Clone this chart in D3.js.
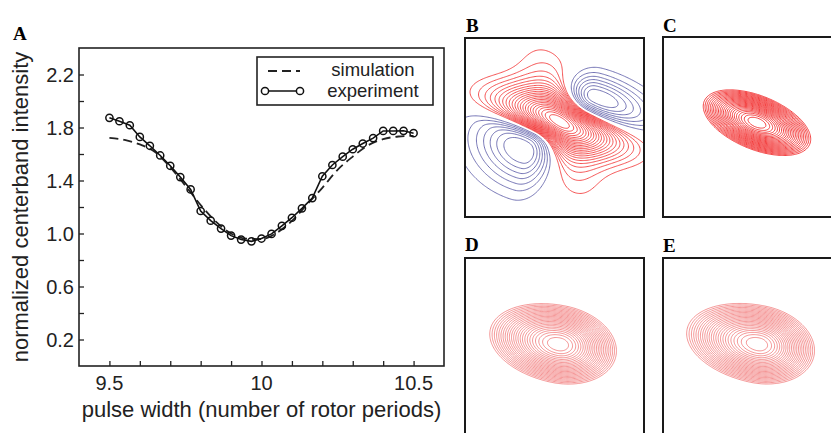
<!DOCTYPE html>
<html>
<head>
<meta charset="utf-8">
<script src="https://cdn.jsdelivr.net/npm/d3@7"></script>
<style>
body { margin: 0; background: #fff; }
text { font-family: "Liberation Sans", Arial, sans-serif; }
.panel-label { font-family: "Liberation Serif", "Times New Roman", serif; font-weight: bold; font-size: 19px; }
</style>
</head>
<body>
<div id="fig"></div>
<script>

// ---- panel A data ----
var expX = [9.5, 9.533, 9.567, 9.6, 9.633, 9.667, 9.7, 9.733, 9.767, 9.8,
            9.833, 9.867, 9.9, 9.933, 9.967, 10.0, 10.033, 10.067, 10.1, 10.133,
            10.167, 10.2, 10.233, 10.267, 10.3, 10.333, 10.367, 10.4, 10.433, 10.467, 10.5];
var expY = [1.873, 1.847, 1.817, 1.729, 1.662, 1.589, 1.511, 1.426, 1.333, 1.170,
            1.097, 1.037, 0.984, 0.954, 0.941, 0.962, 0.997, 1.058, 1.119, 1.190,
            1.267, 1.432, 1.517, 1.580, 1.636, 1.679, 1.720, 1.774, 1.774, 1.775, 1.757];
var simX = [9.5, 9.55, 9.6, 9.65, 9.7, 9.75, 9.8, 9.85, 9.9, 9.95, 10.0,
            10.05, 10.1, 10.15, 10.2, 10.25, 10.3, 10.35, 10.4, 10.45, 10.5];
var simY = [1.722, 1.706, 1.672, 1.615, 1.500, 1.360, 1.215, 1.090, 1.000, 0.962, 0.958,
            1.005, 1.095, 1.220, 1.345, 1.480, 1.580, 1.665, 1.712, 1.732, 1.737];
var yTickLabels = [0.2, 0.6, 1.0, 1.4, 1.8, 2.2];
var xTickLabels = [9.5, 10, 10.5];
var legendNames = ["simulation", "experiment"];

// ---- panels B-E: peaks [u, v, amplitude, angle, sMajor-, sMajor+, sMinor-, sMinor+] ----
var peaksB = [
    [0.531, 0.532, 1.00, -18, 0.25, 0.25, 0.095, 0.095],
    [0.531, 0.532, 0.30, -71, 0.28, 0.28, 0.13, 0.13],
    [0.708, 0.654, -0.90, -18, 0.10, 0.22, 0.08, 0.09],
    [0.363, 0.421, -0.90, -18, 0.20, 0.10, 0.16, 0.07]
];
var peaksC = [[0.525, 0.524, 1, -22, 0.235, 0.235, 0.11, 0.11]];
var peaksD = [[0.525, 0.518, 1, -12, 0.29, 0.24, 0.16, 0.16]];
var peaksE = [[0.532, 0.518, 1, -12, 0.30, 0.235, 0.16, 0.16]];
// contour levels as fractions of the panel's positive max / negative min
var levelsRedB = [0.08, 0.12, 0.16, 0.20, 0.24, 0.28, 0.32, 0.36, 0.40, 0.44, 0.48, 0.52,
                  0.56, 0.60, 0.64, 0.68, 0.72, 0.76, 0.80, 0.84, 0.88, 0.92, 0.96];
var levelsBlueB = [0.13, 0.25, 0.37, 0.49, 0.61, 0.73, 0.85];
var levelsPeak = [0.40, 0.425, 0.45, 0.475, 0.50, 0.525, 0.55, 0.575, 0.60, 0.625, 0.65, 0.675,
                  0.70, 0.725, 0.75, 0.775, 0.80, 0.825, 0.85, 0.875, 0.90, 0.925, 0.95, 0.975];

var width = 831, height = 433;

var svg = d3.select("#fig")
    .append("svg")
    .attr("width", width)
    .attr("height", height);

// ================= panel A =================
var x = d3.scaleLinear().domain([9.4, 10.6]).range([79, 444]);
var y = d3.scaleLinear().domain([0, 2.4]).range([366, 48]);

var gA = svg.append("g");

// inward ticks every 0.1 / 0.2
var xAxis = d3.axisBottom(x)
    .tickValues(d3.range(9.5, 10.55, 0.1))
    .tickSizeInner(-5).tickSizeOuter(0)
    .tickFormat("");
gA.append("g")
    .attr("transform", "translate(0," + y(0) + ")")
    .call(xAxis)
    .call(function(g){ g.select(".domain").remove(); })
    .selectAll("line").attr("stroke", "#222").attr("stroke-width", 1.3);

var yAxis = d3.axisLeft(y)
    .tickValues(d3.range(0.2, 2.3, 0.2))
    .tickSizeInner(-5).tickSizeOuter(0)
    .tickFormat("");
gA.append("g")
    .attr("transform", "translate(" + x(9.4) + ",0)")
    .call(yAxis)
    .call(function(g){ g.select(".domain").remove(); })
    .selectAll("line").attr("stroke", "#222").attr("stroke-width", 1.3);

gA.selectAll(".ylab")
    .data(yTickLabels)
    .enter().append("text")
    .attr("x", x(9.4) - 5)
    .attr("y", function(d){ return y(d); })
    .attr("dy", "0.36em")
    .attr("text-anchor", "end")
    .style("font-size", "20px")
    .attr("fill", "#222")
    .text(function(d){ return d.toFixed(1); });

gA.selectAll(".xlab")
    .data(xTickLabels)
    .enter().append("text")
    .attr("x", function(d){ return x(d); })
    .attr("y", 390)
    .attr("text-anchor", "middle")
    .style("font-size", "20px")
    .attr("fill", "#222")
    .text(function(d){ return d; });

gA.append("rect")
    .attr("x", x(9.4)).attr("y", y(2.4))
    .attr("width", x(10.6) - x(9.4)).attr("height", y(0) - y(2.4))
    .attr("fill", "none").attr("stroke", "#222").attr("stroke-width", 1.6);

gA.append("text")
    .attr("transform", "translate(28," + ((y(0) + y(2.4)) / 2) + ") rotate(-90)")
    .attr("text-anchor", "middle")
    .style("font-size", "22px")
    .attr("fill", "#222")
    .text("normalized centerband intensity");

gA.append("text")
    .attr("x", (x(9.4) + x(10.6)) / 2)
    .attr("y", 417)
    .attr("text-anchor", "middle")
    .style("font-size", "22px")
    .attr("fill", "#222")
    .text("pulse width (number of rotor periods)");

// simulation (dashed)
var simLine = d3.line()
    .x(function(d, i){ return x(simX[i]); })
    .y(function(d){ return y(d); })
    .curve(d3.curveMonotoneX);
gA.append("path")
    .datum(simY)
    .attr("d", simLine)
    .attr("fill", "none")
    .attr("stroke", "#222")
    .attr("stroke-width", 1.8)
    .attr("stroke-dasharray", "9,5");

// experiment (line + open circles)
var expLine = d3.line()
    .x(function(d, i){ return x(expX[i]); })
    .y(function(d){ return y(d); });
gA.append("path")
    .datum(expY)
    .attr("d", expLine)
    .attr("fill", "none")
    .attr("stroke", "#111")
    .attr("stroke-width", 1.6);
gA.selectAll(".pt")
    .data(expY)
    .enter().append("circle")
    .attr("cx", function(d, i){ return x(expX[i]); })
    .attr("cy", function(d){ return y(d); })
    .attr("r", 3.6)
    .attr("fill", "none")
    .attr("stroke", "#111")
    .attr("stroke-width", 1.5);

// legend
var leg = gA.append("g");
leg.append("rect")
    .attr("x", 257).attr("y", 57).attr("width", 176).attr("height", 48)
    .attr("fill", "#fff").attr("stroke", "#222").attr("stroke-width", 1.6);
leg.append("line")
    .attr("x1", 268).attr("x2", 300).attr("y1", 71).attr("y2", 71)
    .attr("stroke", "#222").attr("stroke-width", 1.8).attr("stroke-dasharray", "9,5");
leg.append("line")
    .attr("x1", 265).attr("x2", 300).attr("y1", 91).attr("y2", 91)
    .attr("stroke", "#111").attr("stroke-width", 1.6);
leg.selectAll(".lc").data([265, 300]).enter().append("circle")
    .attr("cx", function(d){ return d; }).attr("cy", 91).attr("r", 3.6)
    .attr("fill", "#fff").attr("stroke", "#111").attr("stroke-width", 1.5);
leg.selectAll(".lt").data(legendNames).enter().append("text")
    .attr("x", 373)
    .attr("y", function(d, i){ return 76 + i * 21; })
    .attr("text-anchor", "middle")
    .style("font-size", "18.5px")
    .attr("fill", "#222")
    .text(function(d){ return d; });

svg.append("text").attr("class", "panel-label").attr("x", 13).attr("y", 40).text("A");

// ================= contour panels =================
function fieldValue(peaks, u, v) {
    var s = 0;
    peaks.forEach(function(p){
        var a = p[3] * Math.PI / 180;
        var du = u - p[0], dv = v - p[1];
        var al = du * Math.cos(a) + dv * Math.sin(a);
        var pe = -du * Math.sin(a) + dv * Math.cos(a);
        var sM = al < 0 ? p[4] : p[5];
        var sm = pe < 0 ? p[6] : p[7];
        s += p[2] * Math.exp(-0.5 * (al * al / (sM * sM) + pe * pe / (sm * sm)));
    });
    return s;
}

function contourPanel(id, x0, y0, w, h, peaks, sets) {
    var u = d3.scaleLinear().domain([0, 1]).range([x0, x0 + w]);
    var v = d3.scaleLinear().domain([0, 1]).range([y0 + h, y0]);
    var n = 170, pad = 0.06;
    var gx = d3.scaleLinear().domain([0, n]).range([u(-pad), u(1 + pad)]);
    var gy = d3.scaleLinear().domain([0, n]).range([v(1 + pad), v(-pad)]);
    var values = new Array(n * n);
    for (var j = 0; j < n; j++) {
        for (var i = 0; i < n; i++) {
            values[i + j * n] = fieldValue(peaks, u.invert(gx(i + 0.5)), v.invert(gy(j + 0.5)));
        }
    }
    var vmax = d3.max(values), vmin = d3.min(values);
    var path = d3.geoPath(d3.geoTransform({
        point: function(px, py){ this.stream.point(gx(px), gy(py)); }
    }));

    svg.append("clipPath").attr("id", id)
        .append("rect").attr("x", x0).attr("y", y0).attr("width", w).attr("height", h);
    var g = svg.append("g").attr("clip-path", "url(#" + id + ")");

    sets.forEach(function(set){
        var conts;
        if (set.negative) {
            conts = d3.contours().size([n, n])
                .thresholds(set.levels.map(function(t){ return -t * vmin; }))
                (values.map(function(t){ return -t; }));
        } else {
            conts = d3.contours().size([n, n])
                .thresholds(set.levels.map(function(t){ return t * vmax; }))
                (values);
        }
        g.selectAll(null)
            .data(conts)
            .enter().append("path")
            .attr("d", path)
            .attr("fill", "none")
            .attr("stroke", set.color)
            .attr("stroke-opacity", set.opacity)
            .attr("stroke-width", set.lw);
    });

    svg.append("rect")
        .attr("x", x0).attr("y", y0).attr("width", w).attr("height", h)
        .attr("fill", "none").attr("stroke", "#1a1a1a").attr("stroke-width", 2);
}

contourPanel("clipB", 465, 38, 179, 179, peaksB, [
    { levels: levelsRedB, color: "#f01e1e", opacity: 0.85, lw: 0.9 },
    { levels: levelsBlueB, color: "#4a4a9e", opacity: 0.85, lw: 0.9, negative: true }
]);
contourPanel("clipC", 663, 37, 179, 180, peaksC, [
    { levels: levelsPeak, color: "#f01818", opacity: 0.85, lw: 0.95 }
]);
contourPanel("clipD", 465, 258, 179, 179, peaksD, [
    { levels: levelsPeak, color: "#eb3c3c", opacity: 0.6, lw: 0.9 }
]);
contourPanel("clipE", 663, 258, 179, 179, peaksE, [
    { levels: levelsPeak, color: "#eb3c3c", opacity: 0.6, lw: 0.9 }
]);

svg.append("text").attr("class", "panel-label").attr("x", 466).attr("y", 32).text("B");
svg.append("text").attr("class", "panel-label").attr("x", 663).attr("y", 32).text("C");
svg.append("text").attr("class", "panel-label").attr("x", 465).attr("y", 251).text("D");
svg.append("text").attr("class", "panel-label").attr("x", 663).attr("y", 252).text("E");

</script>
</body>
</html>
